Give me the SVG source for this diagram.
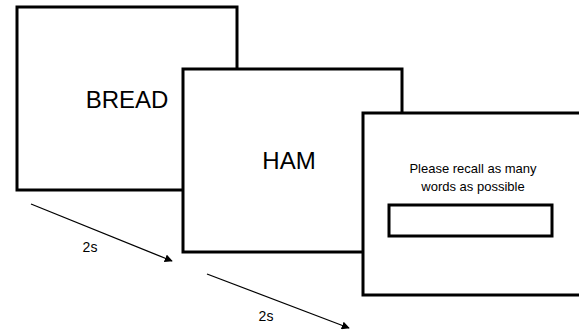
<svg xmlns="http://www.w3.org/2000/svg" width="579" height="335" viewBox="0 0 579 335">
  <style>
    .screen { fill: #ffffff; stroke: #000000; stroke-width: 3; }
    .field { fill: #ffffff; stroke: #000000; stroke-width: 3; }
    .word { font-family: "Liberation Sans", Arial, sans-serif; font-size: 24px; fill: #000; }
    .small { font-family: "Liberation Sans", Arial, sans-serif; font-size: 13px; fill: #000; }
    .timing { font-family: "Liberation Sans", Arial, sans-serif; font-size: 14px; fill: #000; }
    .arrow { stroke: #000; stroke-width: 1.3; fill: none; marker-end: url(#head); }
  </style>
  <defs>
    <marker id="head" viewBox="0 0 10 10" refX="9" refY="5" markerWidth="8" markerHeight="8" markerUnits="userSpaceOnUse" orient="auto">
      <path d="M0,0 L10,5 L0,10 z" fill="#000"/>
    </marker>
  </defs>
  <rect width="579" height="335" fill="#ffffff"/>

  <g id="screen-bread">
    <rect class="screen" x="17" y="7" width="220" height="183"/>
    <text class="word" x="127" y="108" text-anchor="middle">BREAD</text>
  </g>

  <g id="screen-ham">
    <rect class="screen" x="183" y="69" width="219" height="183"/>
    <text class="word" x="289" y="169" text-anchor="middle">HAM</text>
  </g>

  <g id="screen-recall">
    <rect class="screen" x="363" y="113" width="220" height="182"/>
    <text class="small" x="473" y="173" text-anchor="middle">Please recall as many</text>
    <text class="small" x="473" y="191" text-anchor="middle">words as possible</text>
    <rect class="field" x="389" y="205" width="163" height="31"/>
  </g>

  <g id="connectors">
    <line class="arrow" x1="31" y1="204" x2="172" y2="261"/>
    <text class="timing" x="90" y="252" text-anchor="middle">2s</text>
    <line class="arrow" x1="207" y1="274" x2="349" y2="328"/>
    <text class="timing" x="266" y="321" text-anchor="middle">2s</text>
  </g>
</svg>
